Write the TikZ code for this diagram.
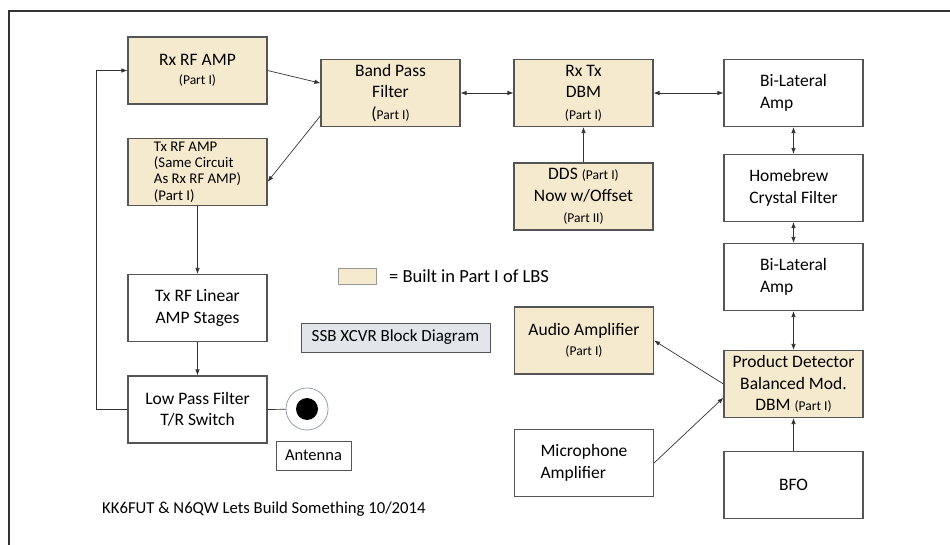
\documentclass[tikz,border=0pt]{standalone}
\usepackage{fontspec}
\setmainfont{Carlito}
\usetikzlibrary{arrows.meta}
\definecolor{partone}{RGB}{246,234,206}
\definecolor{boxline}{RGB}{85,85,85}
\definecolor{titlefill}{RGB}{226,230,234}
\definecolor{antring}{RGB}{150,160,175}
\newcommand{\partnote}[1]{{\fontsize{13.5}{15}\selectfont #1}}

\begin{document}
\begin{tikzpicture}[x=1pt, y=-1pt,
    blk/.style={draw=boxline, line width=1.1pt, minimum width=139pt, minimum height=67pt,
      inner sep=2pt, align=center, font=\fontsize{17.5}{21.5}\selectfont},
    built/.style={blk, fill=partone},
    conn/.style={draw=black!80, line width=0.7pt, -{Latex[length=6pt,width=4.5pt]}},
    both/.style={conn, {Latex[length=6pt,width=4.5pt]}-{Latex[length=6pt,width=4.5pt]}}]
  \useasboundingbox (0,0) rectangle (950,545);
  \draw[line width=1.3pt, black!80] (9,545) -- (9,11) -- (950,11);

  % transmit / receive front end
  \node[built, font=\fontsize{17.5}{19.5}\selectfont] (rx) at (197.5,70.5) {Rx RF AMP\\\partnote{(Part I)}};
  \node[built, align=left, font=\fontsize{14.8}{16.3}\selectfont] (tx) at (197.5,172)
    {Tx RF AMP\\(Same Circuit\\As Rx RF AMP)\\(Part I)};
  \node[blk] (lin) at (197.5,308) {Tx RF Linear\\AMP Stages};
  \node[blk] (lpf) at (197.5,409.5) {Low Pass Filter\\T/R Switch};
  \node[circle, draw=antring, line width=0.8pt, minimum size=42pt, inner sep=0pt] (ant) at (307,409) {};
  \fill (ant.center) circle (11);
  \node[draw=boxline, line width=1pt, minimum width=75pt, minimum height=29pt, inner sep=2pt,
    font=\fontsize{16.5}{18}\selectfont] (antlbl) at (313.5,455.5) {Antenna};

  \node[built] (bpf) at (390.5,93) {Band Pass\\Filter\\(\partnote{Part I)}};
  \node[built] (dbm) at (583.5,93) {Rx Tx\\DBM\\\partnote{(Part I)}};
  \node[built] (dds) at (583.5,196.5) {DDS \partnote{(Part I)}\\Now w/Offset\\\partnote{(Part II)}};

  % IF chain
  \node[blk, align=left] (bla) at (793.5,93) {Bi-Lateral\\Amp};
  \node[blk, align=left] (xtal) at (793.5,188) {Homebrew\\Crystal Filter};
  \node[blk, align=left] (blb) at (793.5,277) {Bi-Lateral\\Amp};
  \node[built] (pd) at (793.5,384) {Product Detector\\Balanced Mod.\\DBM \partnote{(Part I)}};
  \node[blk] (bfo) at (793.5,485) {BFO};
  \node[built, font=\fontsize{17.5}{19.5}\selectfont] (audio) at (584,340.5) {Audio Amplifier\\\partnote{(Part I)}};
  \node[blk, align=left] (mic) at (584,463) {Microphone\\Amplifier};

  % key and titles
  \node[draw=boxline!60, line width=0.8pt, fill=partone, minimum width=38pt, minimum height=16pt, inner sep=0pt] (key) at (357,276) {};
  \node[anchor=west, inner sep=0pt, font=\fontsize{18.5}{20}\selectfont] (keytxt) at (389,276) {= Built in Part I of LBS};
  \node[draw=boxline, line width=1pt, fill=titlefill, minimum width=189pt, minimum height=29pt, inner sep=2pt,
    font=\fontsize{17}{19}\selectfont] (title) at (395.5,337.5) {SSB XCVR Block Diagram};
  \node[anchor=west, inner sep=0pt, font=\fontsize{16.7}{18}\selectfont] (credit) at (102,509) {KK6FUT \& N6QW Lets Build Something 10/2014};

  \draw[conn] (rx.east) -- (bpf.172);
  \draw[conn] (bpf.198) -- (tx.-8);
  \draw[conn] (tx.south) -- (lin.north);
  \draw[conn] (lin.south) -- (lpf.north);
  \draw[conn] (lpf.west) -- ++(-31,0) |- (rx.west);
  \draw[draw=black!80, line width=0.7pt] (lpf.east) -- (ant);
  \draw[both] (bpf.east) -- (dbm.west);
  \draw[both] (dbm.east) -- (bla.west);
  \draw[conn] (dds.north) -- (dbm.south);
  \draw[both] (bla.south) -- (xtal.north);
  \draw[both] (xtal.south) -- (blb.north);
  \draw[both] (blb.south) -- (pd.north);
  \draw[conn] (bfo.north) -- (pd.south);
  \draw[conn] (pd.west) -- (audio.east);
  \draw[conn] (mic.east) -- (pd.191);
\end{tikzpicture}
\end{document}
